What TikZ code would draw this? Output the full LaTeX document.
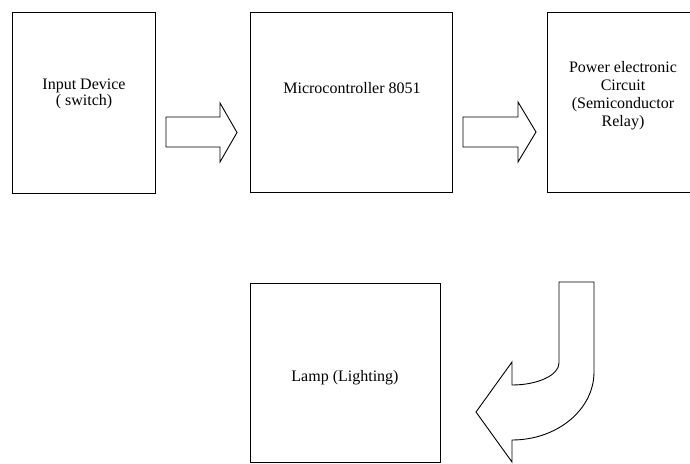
\documentclass[tikz,border=0pt]{standalone}
\usepackage{fontspec}
\setmainfont{Liberation Serif}
\begin{document}
\begin{tikzpicture}[x=1pt,y=-1pt,
  box/.style={draw=black, line width=0.9pt, inner sep=0pt, outer sep=0pt},
  openbox/.style={inner sep=0pt, outer sep=0pt},
  edge/.style={draw=black, line width=0.9pt},
  lbl/.style={inner sep=0pt, align=center, font=\fontsize{16}{18}\selectfont},
  blockarrow/.style={draw=black, line width=0.9pt, fill=white, line join=miter}]
\useasboundingbox (0,0) rectangle (690,463);
\fill[white] (0,0) rectangle (690,463);
% boxes
\node[box, minimum width=143, minimum height=181] (in) at (83.5,102.5) {};
\node[box, minimum width=202, minimum height=180] (mc) at (351,102) {};
\node[openbox, minimum width=143, minimum height=180] (pe) at (618.5,102) {};
\draw[edge] (pe.north east) -- (pe.north west) -- (pe.south west) -- (pe.south east);
\node[box, minimum width=190, minimum height=179] (lamp) at (345,372.5) {};
% labels
\node[lbl, font=\fontsize{16}{14}\selectfont] (inl) at (84,94) {Input Device\\( switch)};
\node[lbl] (mcl) at (352,88) {Microcontroller 8051};
\node[lbl] (pel) at (623,96) {Power electronic\\Circuit\\(Semiconductor\\Relay)};
\node[lbl] (lampl) at (345,378) {Lamp (Lighting)};
% straight block arrows
\draw[blockarrow] (166,117) -- (220,117) -- (220,103) -- (237,132.5) -- (220,162) -- (220,147) -- (166,147) -- cycle;
\draw[blockarrow] (463,117) -- (518,117) -- (518,102) -- (536,132) -- (518,162) -- (518,147) -- (463,147) -- cycle;
% curved block arrow
\draw[blockarrow] (559,282) -- (594,282) -- (594,372)
  .. controls (594,409.5) and (557.3,440) .. (512,440)
  -- (512,462) -- (476,412) -- (512,362) -- (512,385)
  .. controls (538,385) and (559,375) .. (559,363) -- cycle;
\end{tikzpicture}
\end{document}
